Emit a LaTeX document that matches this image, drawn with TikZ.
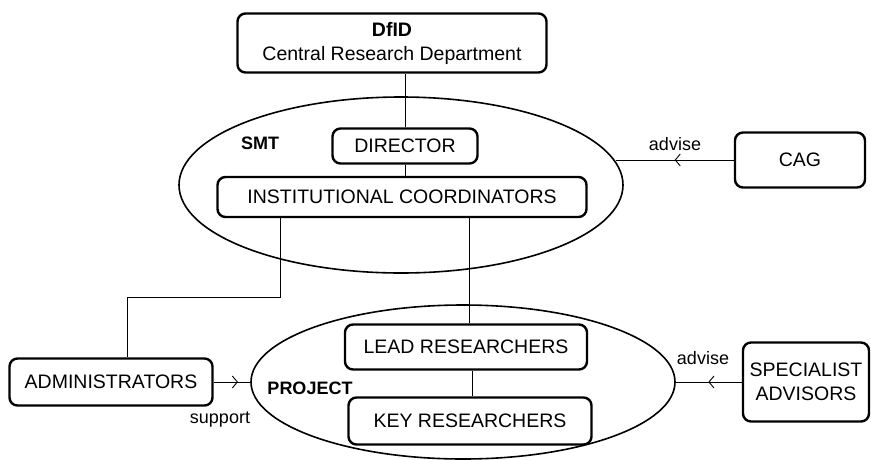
\documentclass[tikz,border=0pt]{standalone}
\usepackage{fontspec}
\setmainfont{Liberation Sans}
\usetikzlibrary{shapes.geometric, arrows.meta, decorations.markings}

\begin{document}
\begin{tikzpicture}[x=1pt, y=-1pt,
    unit/.style={draw, line width=2.4pt, rounded corners=8pt, align=center, inner sep=0pt, font=\fontsize{19.5}{24}\selectfont},
    team/.style={draw, ellipse, line width=1.6pt, inner sep=0pt, outer sep=0pt},
    tag/.style={font=\bfseries\fontsize{18}{21}\selectfont},
    note/.style={font=\fontsize{18}{21}\selectfont},
    link/.style={line width=0.9pt},
    midarrow/.style={link, postaction={decorate}, decoration={markings, mark=at position #1 with {\arrow{Straight Barb[length=5pt, width=12pt, line width=0.9pt]}}}},
    midarrow/.default=0.5
]
\useasboundingbox (0,0) rectangle (871,459);

\node[team, minimum width=444, minimum height=176] (smt) at (401,185) {};
\node[team, minimum width=424, minimum height=154] (project) at (463,382) {};

\node[unit, minimum width=309, minimum height=59] (dfid) at (392,43) {\textbf{DfID}\\Central Research Department};
\node[tag] (smtlabel) at (260,143) {SMT};
\node[unit, minimum width=145, minimum height=35] (director) at (405,146) {DIRECTOR};
\node[unit, minimum width=369, minimum height=40] (coord) at (402,197) {INSTITUTIONAL COORDINATORS};
\node[unit, minimum width=130, minimum height=55] (cag) at (800,160) {CAG};
\node[tag] (projectlabel) at (310,388) {PROJECT};
\node[unit, minimum width=242, minimum height=45] (lead) at (466,347) {LEAD RESEARCHERS};
\node[unit, minimum width=243, minimum height=47] (key) at (470,421) {KEY RESEARCHERS};
\node[unit, minimum width=203, minimum height=47] (admin) at (111,382) {ADMINISTRATORS};
\node[unit, minimum width=126, minimum height=79] (spec) at (806,382) {SPECIALIST\\ADVISORS};

\node[note] (advisecag) at (675,144) {advise};
\node[note] (advisespec) at (703,358) {advise};
\node[note] (support) at (220,420) {support};

% reporting lines
\draw[link] (director.north) -- (director.north |- dfid.south);
\draw[link] (director.south) -- (director.south |- coord.north);
\draw[link] ([xshift=-122pt]coord.south) -- ++(0,79) -| ([xshift=16pt]admin.north);
\draw[link] ([xshift=67pt]coord.south) -- ([xshift=67pt]coord.south |- lead.north);
\draw[link] ([xshift=6pt]lead.south) -- ([xshift=6pt]lead.south |- key.north);

% advice and support
\draw[midarrow] (cag.west) -- (cag.west -| smt.6);
\draw[midarrow] (spec.west) -- (project.east);
\draw[midarrow=0.65] (admin.east) -- (project.west);
\end{tikzpicture}
\end{document}
